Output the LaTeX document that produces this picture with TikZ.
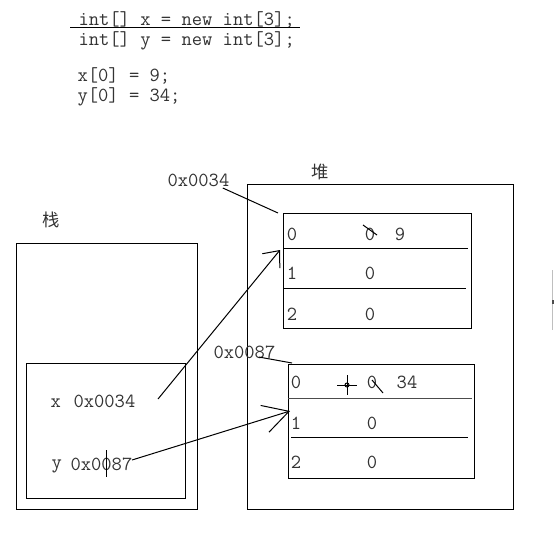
\documentclass[tikz,border=0pt]{standalone}
\usepackage{fontspec}
\newfontfamily\cjk{Noto Sans CJK SC}
\usetikzlibrary{arrows.meta}
\definecolor{txtgray}{RGB}{51,51,51}
\tikzset{every picture/.style={line width=0.75pt}}
\tikzset{
  code/.style={anchor=base west,inner sep=0pt,font=\ttfamily\fontsize{15}{17}\selectfont,text=txtgray},
  cellnum/.style={anchor=base,inner sep=0pt,font=\ttfamily\fontsize{15}{17}\selectfont,text=txtgray},
  zone/.style={anchor=center,inner sep=0pt,font=\cjk\fontsize{13}{15}\selectfont,text=txtgray},
  ptrA/.style={-{Straight Barb[length=10pt,width=17pt]}},
  ptrB/.style={-{Straight Barb[length=19pt,width=21pt]}}
}

\begin{document}
\begin{tikzpicture}[x=0.75pt,y=0.75pt,yscale=-1,xscale=1]
\useasboundingbox (0,0) rectangle (555,539);

% Text Node
\node[code] (line1) at (78,25) {int[] x = new int[3];};
% Text Node
\node[code] (line2) at (78,45) {int[] y = new int[3];};
% Text Node
\node[code] (line3) at (77,81) {x[0] = 9;};
% Text Node
\node[code] (line4) at (77,101) {y[0] = 34;};
%Straight Lines
\draw (70,27) -- (300,27);

%Shape: Rectangle (stack)
\draw (16,243) rectangle (197,509);
\draw (26,363) rectangle (185,498);
% Text Node
\node[zone] (stk) at (51,220) {栈};
% Text Node
\node[code] (xname) at (50,407) {x};
\node[code] (xaddr) at (73,407) {0x0034};
% Text Node
\node[code] (yname) at (51,468) {y};
\node[code] (yaddr) at (70,470) {0x0087};
%Straight Lines (cursor)
\draw (106,450) -- (106,477);

%Shape: Rectangle (heap)
\draw (247,184) rectangle (513,509);
% Text Node
\node[zone] (hp) at (320,172) {堆};

%Shape: Rectangle (array x)
\coordinate (arrA-nw) at (283,213);
\draw (arrA-nw) rectangle (471,328);
\draw (283,248) -- (468,248);
\draw (283,288) -- (466,288);
\node[cellnum] (a0) at (292,240) {0};
\node[cellnum] (a1) at (292,279) {1};
\node[cellnum] (a2) at (292,320) {2};
\node[cellnum] (av0) at (370,240) {0};
\node[cellnum] (av0new) at (400,240) {9};
\node[cellnum] (av1) at (370,279) {0};
\node[cellnum] (av2) at (370,320) {0};
\draw (363,225) -- (377,235);

%Shape: Rectangle (array y)
\coordinate (arrB-nw) at (288,364);
\draw (arrB-nw) rectangle (474,478);
\draw [color=black!70] (288,398) -- (472,398);
\draw (291,437) -- (468,437);
\node[cellnum] (b0) at (296,388) {0};
\node[cellnum] (b1) at (296,429) {1};
\node[cellnum] (b2) at (296,468) {2};
\node[cellnum] (bv0) at (372,388) {0};
\node[cellnum] (bv0new) at (407,388) {34};
\node[cellnum] (bv1) at (372,429) {0};
\node[cellnum] (bv2) at (372,468) {0};
\draw (372,380) -- (383,393);
% crosshair
\draw (337,385) -- (357,385);
\draw (347,375) -- (347,395);
\draw (347,385) circle (2);

% Text Node
\node[code] (adrA) at (167,186) {0x0034};
% Text Node
\node[code] (adrB) at (213,358) {0x0087};
%Straight Lines
\draw (adrA.base east) ++(-7,2) -- (278,213);
\draw (adrB.base east) ++(-17,-1) -- (292,363);

% pointers
\coordinate (xref) at (158,399);
\coordinate (yref) at (132,460);
\coordinate (arrA-in) at (280,250);
\coordinate (arrB-in) at (290,411);
\draw [ptrA] (xref) -- (arrA-in);
\draw [ptrB] (yref) -- (arrB-in);

%Straight Lines (scrollbar edge)
\draw [color=black!25] (552,270) -- (552,330);
\draw [line width=1.5pt,color=black!70] (553,300) -- (553,304);
\end{tikzpicture}
\end{document}
